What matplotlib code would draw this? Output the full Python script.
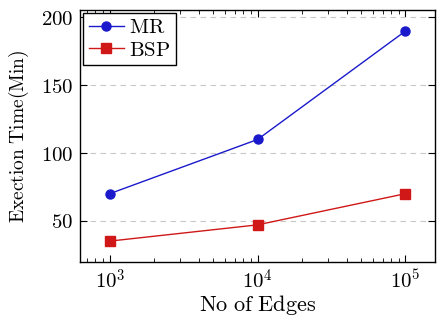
import matplotlib.pyplot as plt
from matplotlib.ticker import LogLocator, FixedLocator

# data
edges = [1e3, 1e4, 1e5]
mr_time = [70, 110, 190]
bsp_time = [35, 47, 70]

plt.rcParams['font.family'] = 'serif'
plt.rcParams['font.serif'] = ['DejaVu Serif']
plt.rcParams['mathtext.fontset'] = 'cm'

fig = plt.figure(figsize=(4.43, 3.24), dpi=100)
ax = fig.add_axes([0.181, 0.191, 0.801, 0.778])

ax.plot(edges, mr_time, color='#1a1acc', marker='o', markersize=6.5, lw=1.0, label='MR')
ax.plot(edges, bsp_time, color='#d01818', marker='s', markersize=6.5, lw=1.0, label='BSP')

ax.set_xscale('log')
ax.set_xlim(10**2.8, 10**5.2)
ax.set_ylim(19.5, 205.5)
ax.xaxis.set_major_locator(FixedLocator(edges))
ax.set_xticklabels([r'$10^{3}$', r'$10^{4}$', r'$10^{5}$'])
ax.xaxis.set_minor_locator(LogLocator(base=10, subs=range(2, 10)))
ax.set_yticks([50, 100, 150, 200])
ax.set_yticklabels([r'$50$', r'$100$', r'$150$', r'$200$'])

ax.grid(axis='y', which='major', color='#c8c8c8', linestyle=(0, (5, 4)), lw=0.8)
ax.tick_params(which='both', direction='in', top=True, right=True, labelsize=15)
ax.tick_params(which='major', length=5, pad=5)
ax.tick_params(which='minor', length=3)

ax.set_xlabel(r'$\mathrm{No\ of\ Edges}$', fontsize=16, labelpad=0)
ax.set_ylabel(r'$\mathrm{Exection\ Time(Min)}$', fontsize=14, labelpad=7)

for s in ax.spines.values():
    s.set_linewidth(1.0)

leg = ax.legend(loc='upper left', fancybox=False, edgecolor='black',
                framealpha=1, borderaxespad=0.15, handlelength=1.7, handletextpad=0.25,
                borderpad=0.25, labelspacing=0.15, prop={'family': 'serif', 'size': 15})
for t in leg.get_texts():
    t.set_text(r'$\mathrm{' + t.get_text() + '}$')
leg.get_frame().set_linewidth(1.0)

fig.savefig('out.png', dpi=100)
